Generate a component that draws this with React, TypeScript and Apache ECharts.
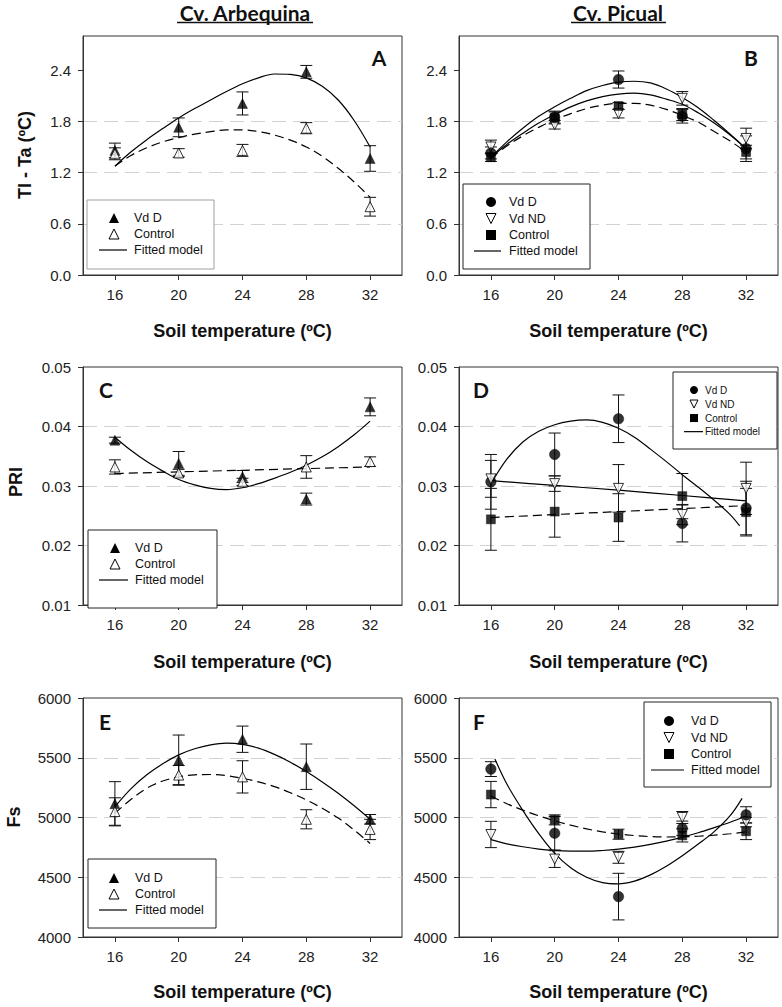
import React, { useEffect, useRef } from 'react';
import * as echarts from 'echarts';

// ---------- data ----------
const soilTemp = [16, 20, 24, 28, 32];
const xTickValues = [16, 20, 24, 28, 32];
const tlTicks = [0, 0.6, 1.2, 1.8, 2.4];
const priTicks = [0.01, 0.02, 0.03, 0.04, 0.05];
const fsTicks = [4000, 4500, 5000, 5500, 6000];

const fitT = [16, 17, 18, 19, 20, 21, 22, 23, 24, 25, 26, 27, 28, 29, 30, 31, 32];

// A: Arbequina, Tl - Ta
const aVdD = [1.46, 1.73, 2.01, 2.38, 1.365];
const aVdDSe = [0.085, 0.11, 0.135, 0.075, 0.15];
const aCtl = [1.42, 1.43, 1.46, 1.72, 0.8];
const aCtlSe = [0.07, 0.05, 0.07, 0.065, 0.11];
const aVdDFit = [1.275, 1.44, 1.585, 1.715, 1.84, 1.95, 2.05, 2.15, 2.24, 2.31, 2.355, 2.35, 2.31, 2.21, 2.05, 1.81, 1.5];
const aCtlFit = [1.275, 1.4, 1.49, 1.56, 1.61, 1.65, 1.68, 1.7, 1.7, 1.68, 1.64, 1.58, 1.5, 1.39, 1.25, 1.09, 0.91];

// B: Picual, Tl - Ta
const bVdD = [1.43, 1.85, 2.29, 1.86, 1.48];
const bVdDSe = [0.07, 0.07, 0.1, 0.08, 0.15];
const bVdND = [1.5, 1.76, 1.89, 2.07, 1.6];
const bVdNDSe = [0.08, 0.05, 0.05, 0.08, 0.12];
const bCtl = [1.38, 1.84, 1.98, 1.88, 1.44];
const bCtlSe = [0.05, 0.07, 0.04, 0.07, 0.08];
const bVdDFit = [1.38, 1.56, 1.72, 1.86, 1.97, 2.07, 2.16, 2.22, 2.26, 2.27, 2.25, 2.18, 2.08, 1.96, 1.81, 1.65, 1.48];
const bVdNDFit = [1.38, 1.53, 1.66, 1.78, 1.88, 1.97, 2.04, 2.09, 2.12, 2.13, 2.11, 2.06, 2.0, 1.9, 1.78, 1.64, 1.48];
const bCtlFit = [1.37, 1.51, 1.63, 1.73, 1.82, 1.89, 1.95, 1.99, 2.01, 2.01, 1.99, 1.94, 1.87, 1.79, 1.68, 1.57, 1.44];

// C: Arbequina, PRI
const cVdD = [0.0377, 0.0338, 0.0316, 0.0278, 0.0433];
const cVdDSe = [0.0005, 0.002, 0.001, 0.001, 0.0015];
const cCtl = [0.0332, 0.0322, 0.0307, 0.0332, 0.0341];
const cCtlSe = [0.0012, 0.0006, 0.0006, 0.0019, 0.0008];
const cVdDFit = [0.0382, 0.036, 0.0341, 0.0325, 0.0311, 0.0302, 0.0296, 0.0294, 0.0297, 0.0304, 0.0313, 0.0323, 0.0335, 0.0349, 0.0366, 0.0386, 0.0409];
const cCtlFitT = [16, 32];
const cCtlFit = [0.0321, 0.0332];

// D: Picual, PRI
const dVdD = [0.0307, 0.0353, 0.0413, 0.0237, 0.0263];
const dVdDSe = [0.0046, 0.0036, 0.004, 0.0031, 0.0045];
const dVdND = [0.0312, 0.0304, 0.0296, 0.0252, 0.0296];
const dVdNDSe = [0.0031, 0.0013, 0.004, 0.0017, 0.0044];
const dCtl = [0.0244, 0.0257, 0.0247, 0.0283, 0.0256];
const dCtlSe = [0.0052, 0.0043, 0.004, 0.0038, 0.004];
const dVdDFitT = [16.1, 17, 18, 19, 20, 21, 22, 23, 24, 25, 26, 27, 28, 29, 30, 31, 31.6];
const dVdDFit = [0.0308, 0.0345, 0.0374, 0.0392, 0.0403, 0.0409, 0.0411, 0.0407, 0.0397, 0.0382, 0.0362, 0.0341, 0.0319, 0.0298, 0.0276, 0.0252, 0.0233];
const dLinT = [16, 20, 24, 28, 32];
const dVdNDFit = [0.0309, 0.0301, 0.0293, 0.0284, 0.0275];
const dCtlFit = [0.0247, 0.0252, 0.0257, 0.0262, 0.0267];

// E: Arbequina, Fs
const eVdD = [5115, 5480, 5655, 5425, 4985];
const eVdDSe = [185, 210, 110, 190, 40];
const eCtl = [5050, 5355, 5340, 4985, 4900];
const eCtlSe = [115, 80, 135, 80, 85];
const eVdDFit = [5090, 5240, 5357, 5450, 5524, 5575, 5608, 5622, 5612, 5580, 5528, 5463, 5385, 5298, 5203, 5098, 4985];
const eCtlFit = [5035, 5150, 5245, 5305, 5340, 5357, 5360, 5350, 5328, 5298, 5258, 5207, 5147, 5077, 4995, 4895, 4783];

// F: Picual, Fs
const fVdD = [5405, 4868, 4338, 4910, 5022];
const fVdDSe = [62, 140, 195, 60, 68];
const fVdND = [4858, 4652, 4667, 5000, 4962];
const fVdNDSe = [110, 70, 50, 50, 40];
const fCtl = [5192, 4980, 4860, 4850, 4885];
const fCtlSe = [110, 42, 42, 55, 70];
const fVdDFitT = [16.25, 17, 18, 19, 20, 21, 22, 23, 24, 25, 26, 27, 28, 29, 30, 31, 31.75];
const fVdDFit = [5490, 5280, 5060, 4865, 4700, 4580, 4500, 4455, 4445, 4468, 4520, 4592, 4680, 4778, 4882, 5015, 5160];
const fVdNDFit = [4815, 4780, 4755, 4736, 4725, 4719, 4718, 4724, 4735, 4752, 4775, 4803, 4835, 4872, 4915, 4960, 5010];
const fCtlFit = [5180, 5115, 5062, 5014, 4972, 4936, 4905, 4880, 4862, 4849, 4840, 4837, 4838, 4843, 4852, 4864, 4880];

// ---------- layout / style ----------
const SANS = '"Liberation Sans", Arial, sans-serif';
const CAL = 'Lato, "Open Sans", sans-serif';
const AX = '#333';

type Mk = 'tri' | 'triOpen' | 'triDown' | 'circle' | 'square';

const gridBoxes = [
  { left: 83, top: 36, width: 319, height: 239 },
  { left: 459, top: 36, width: 319, height: 239 },
  { left: 83, top: 367, width: 319, height: 238 },
  { left: 459, top: 367, width: 319, height: 238 },
  { left: 83, top: 698, width: 319, height: 239 },
  { left: 459, top: 698, width: 319, height: 239 },
];

function scatter(gi: number, mean: number[], mk: Mk) {
  const open = mk === 'triOpen' || mk === 'triDown';
  return {
    type: 'scatter',
    xAxisIndex: gi,
    yAxisIndex: gi,
    data: soilTemp.map((x, j) => [x, mean[j]]),
    symbol: mk === 'circle' ? 'circle' : mk === 'square' ? 'rect' : 'triangle',
    symbolSize: mk === 'square' ? 9 : mk === 'circle' ? 10.5 : 10,
    symbolRotate: mk === 'triDown' ? 180 : 0,
    itemStyle: open
      ? { color: '#fff', borderColor: '#000', borderWidth: 1 }
      : { color: '#000', borderColor: '#000', borderWidth: 0.5 },
    z: 5,
    silent: true,
  };
}

function errBar(gi: number, mean: number[], se: number[]) {
  return {
    type: 'custom',
    xAxisIndex: gi,
    yAxisIndex: gi,
    data: soilTemp.map((x, j) => [x, mean[j] - se[j], mean[j] + se[j]]),
    encode: { x: 0, y: [1, 2] },
    z: 4,
    silent: true,
    renderItem: (params: any, api: any) => {
      const x = api.value(0);
      const a = api.coord([x, api.value(2)]);
      const b = api.coord([x, api.value(1)]);
      const w = 6;
      const st = { stroke: '#111', lineWidth: 1 };
      return {
        type: 'group',
        children: [
          { type: 'line', shape: { x1: a[0], y1: a[1], x2: b[0], y2: b[1] }, style: st },
          { type: 'line', shape: { x1: a[0] - w, y1: a[1], x2: a[0] + w, y2: a[1] }, style: st },
          { type: 'line', shape: { x1: b[0] - w, y1: b[1], x2: b[0] + w, y2: b[1] }, style: st },
        ],
      };
    },
  };
}

function fit(gi: number, xs: number[], ys: number[], dashed: boolean) {
  return {
    type: 'line',
    xAxisIndex: gi,
    yAxisIndex: gi,
    data: xs.map((x, j) => [x, ys[j]]),
    smooth: 0.35,
    smoothMonotone: undefined,
    symbol: 'none',
    lineStyle: { color: '#000', width: 1.2, type: dashed ? [9, 5] : 'solid' },
    z: 3,
    silent: true,
  };
}

function markerGraphic(mk: Mk, cx: number, cy: number, s: number) {
  const h = s / 2;
  if (mk === 'circle') return { type: 'circle', shape: { cx, cy, r: h }, style: { fill: '#000' }, z: 101 };
  if (mk === 'square') return { type: 'rect', shape: { x: cx - h, y: cy - h, width: s, height: s }, style: { fill: '#000' }, z: 101 };
  if (mk === 'triDown')
    return { type: 'polygon', shape: { points: [[cx - h, cy - h], [cx + h, cy - h], [cx, cy + h]] }, style: { fill: '#fff', stroke: '#000', lineWidth: 1 }, z: 101 };
  return {
    type: 'polygon',
    shape: { points: [[cx, cy - h], [cx + h, cy + h], [cx - h, cy + h]] },
    style: mk === 'tri' ? { fill: '#000' } : { fill: '#fff', stroke: '#000', lineWidth: 1 },
    z: 101,
  };
}

function txt(text: string, x: number, y: number, font: string, align = 'left', rotation = 0) {
  return {
    type: 'text',
    x,
    y,
    rotation,
    z: 102,
    style: { text, font, fill: '#111', textAlign: align, textVerticalAlign: 'middle', align, verticalAlign: 'middle' },
  };
}

type Row = { mk: Mk | 'line'; label: string; y: number };
function legendBox(x0: number, y0: number, x1: number, y1: number, border: string, rows: Row[], symX: number, textX: number, lx1: number, lx2: number, fs: number, ss: number) {
  const els: any[] = [
    { type: 'rect', shape: { x: x0, y: y0, width: x1 - x0, height: y1 - y0 }, style: { fill: '#fff', stroke: border, lineWidth: 1 }, z: 100 },
  ];
  rows.forEach((r) => {
    if (r.mk === 'line') els.push({ type: 'line', shape: { x1: lx1, y1: r.y, x2: lx2, y2: r.y }, style: { stroke: '#000', lineWidth: 1.2 }, z: 101 });
    else els.push(markerGraphic(r.mk, symX, r.y, ss));
    els.push(txt(r.label, textX, r.y, `${fs}px ${SANS}`));
  });
  return els;
}

function xAxisCfg(gi: number) {
  return {
    gridIndex: gi,
    type: 'value',
    min: 14,
    max: 34,
    axisLine: { show: true, lineStyle: { color: AX, width: 1 } },
    axisTick: { show: true, length: 5, customValues: xTickValues, lineStyle: { color: AX } },
    axisLabel: { customValues: xTickValues, fontSize: 15, fontFamily: SANS, color: '#222', margin: 12 },
    splitLine: { show: false },
  };
}

function yAxisCfg(gi: number, min: number, max: number, interval: number, ticks: number[], dec: number) {
  return {
    gridIndex: gi,
    type: 'value',
    min,
    max,
    interval,
    axisLine: { show: true, lineStyle: { color: AX, width: 1 } },
    axisTick: { show: true, length: 5, customValues: ticks, lineStyle: { color: AX } },
    axisLabel: {
      customValues: ticks,
      fontSize: 15,
      fontFamily: SANS,
      color: '#222',
      margin: 12,
      formatter: (v: number) => (dec > 0 ? Number(v).toFixed(dec) : String(Math.round(v))),
    },
    splitLine: { show: true, showMinLine: false, showMaxLine: false, lineStyle: { color: '#d2d2d2', width: 1, type: [14, 7] } },
  };
}

export default function App() {
  const ref = useRef<HTMLDivElement>(null);
  useEffect(() => {
    document.body.style.margin = '0';
    if (!ref.current) return;
    const chart = echarts.init(ref.current, undefined, { renderer: 'svg' });

    const series: any[] = [
      // A
      fit(0, fitT, aVdDFit, false), fit(0, fitT, aCtlFit, true),
      errBar(0, aVdD, aVdDSe), errBar(0, aCtl, aCtlSe),
      scatter(0, aVdD, 'tri'), scatter(0, aCtl, 'triOpen'),
      // B
      fit(1, fitT, bVdDFit, false), fit(1, fitT, bVdNDFit, false), fit(1, fitT, bCtlFit, true),
      errBar(1, bVdD, bVdDSe), errBar(1, bVdND, bVdNDSe), errBar(1, bCtl, bCtlSe),
      scatter(1, bVdND, 'triDown'), scatter(1, bCtl, 'square'), scatter(1, bVdD, 'circle'),
      // C
      fit(2, fitT, cVdDFit, false), fit(2, cCtlFitT, cCtlFit, true),
      errBar(2, cVdD, cVdDSe), errBar(2, cCtl, cCtlSe),
      scatter(2, cVdD, 'tri'), scatter(2, cCtl, 'triOpen'),
      // D
      fit(3, dVdDFitT, dVdDFit, false), fit(3, dLinT, dVdNDFit, false), fit(3, dLinT, dCtlFit, true),
      errBar(3, dVdD, dVdDSe), errBar(3, dVdND, dVdNDSe), errBar(3, dCtl, dCtlSe),
      scatter(3, dVdD, 'circle'), scatter(3, dVdND, 'triDown'), scatter(3, dCtl, 'square'),
      // E
      fit(4, fitT, eVdDFit, false), fit(4, fitT, eCtlFit, true),
      errBar(4, eVdD, eVdDSe), errBar(4, eCtl, eCtlSe),
      scatter(4, eVdD, 'tri'), scatter(4, eCtl, 'triOpen'),
      // F
      fit(5, fVdDFitT, fVdDFit, false), fit(5, fitT, fVdNDFit, false), fit(5, fitT, fCtlFit, true),
      errBar(5, fVdD, fVdDSe), errBar(5, fVdND, fVdNDSe), errBar(5, fCtl, fCtlSe),
      scatter(5, fVdND, 'triDown'), scatter(5, fCtl, 'square'), scatter(5, fVdD, 'circle'),
    ];

    const twoRows: Row[] = [
      { mk: 'tri', label: 'Vd D', y: 0 },
      { mk: 'triOpen', label: 'Control', y: 16 },
      { mk: 'line', label: 'Fitted model', y: 32 },
    ];
    const threeRows: Row[] = [
      { mk: 'circle', label: 'Vd D', y: 0 },
      { mk: 'triDown', label: 'Vd ND', y: 16.5 },
      { mk: 'square', label: 'Control', y: 33 },
      { mk: 'line', label: 'Fitted model', y: 49 },
    ];
    const shift = (rows: Row[], y0: number, k = 1) => rows.map((r) => ({ ...r, y: y0 + r.y * k }));

    const TITLE = `bold 21px ${CAL}`;
    const LETTER = `bold 21px ${CAL}`;
    const AXT = `bold 18px ${SANS}`;

    const graphic: any[] = [
      txt('Cv. Arbequina', 245, 12, TITLE, 'center'),
      { type: 'line', shape: { x1: 177, y1: 22.5, x2: 313, y2: 22.5 }, style: { stroke: '#111', lineWidth: 1.5 }, z: 102 },
      txt('Cv. Picual', 618, 12, TITLE, 'center'),
      { type: 'line', shape: { x1: 571, y1: 22.5, x2: 666, y2: 22.5 }, style: { stroke: '#111', lineWidth: 1.5 }, z: 102 },
      txt('A', 379, 57, LETTER, 'center'),
      txt('B', 751, 57, LETTER, 'center'),
      txt('C', 106, 389, LETTER, 'center'),
      txt('D', 481, 389, LETTER, 'center'),
      txt('E', 105, 721, LETTER, 'center'),
      txt('F', 479, 721, LETTER, 'center'),
      txt('Tl - Ta (ºC)', 25, 155, AXT, 'center', Math.PI / 2),
      txt('PRI', 16, 482, AXT, 'center', Math.PI / 2),
      txt('Fs', 14, 817, AXT, 'center', Math.PI / 2),
      txt('Soil temperature (ºC)', 242.5, 331, AXT, 'center'),
      txt('Soil temperature (ºC)', 618.5, 331, AXT, 'center'),
      txt('Soil temperature (ºC)', 242.5, 662, AXT, 'center'),
      txt('Soil temperature (ºC)', 618.5, 662, AXT, 'center'),
      txt('Soil temperature (ºC)', 242.5, 992, AXT, 'center'),
      txt('Soil temperature (ºC)', 618.5, 992, AXT, 'center'),
      ...legendBox(87, 200, 214, 269, '#a0a0a0', shift(twoRows, 218), 114, 134, 99, 127, 12.5, 10),
      ...legendBox(463, 184, 590, 269, '#222', shift(threeRows, 202), 491, 509, 474, 501, 12.5, 10),
      ...legendBox(88, 530, 217, 608, '#222', shift(twoRows, 548), 115, 135, 99, 128, 12.5, 10),
      ...legendBox(673, 372, 777, 449, '#222', shift(threeRows, 390, 0.85), 694, 705, 684, 703, 10, 8),
      ...legendBox(88, 859, 216, 928, '#222', shift(twoRows, 878), 114, 135, 99, 127, 12.5, 10),
      ...legendBox(644, 702, 771, 787, '#222', shift(threeRows, 721), 669, 691, 651, 684, 12.5, 10),
    ];

    chart.setOption({
      animation: false,
      backgroundColor: '#fff',
      grid: gridBoxes.map((g) => ({ ...g, show: true, borderColor: AX, borderWidth: 1, backgroundColor: 'transparent', containLabel: false })),
      xAxis: [0, 1, 2, 3, 4, 5].map((i) => xAxisCfg(i)),
      yAxis: [
        yAxisCfg(0, 0, 2.8, 0.6, tlTicks, 1),
        yAxisCfg(1, 0, 2.8, 0.6, tlTicks, 1),
        yAxisCfg(2, 0.01, 0.05, 0.01, priTicks, 2),
        yAxisCfg(3, 0.01, 0.05, 0.01, priTicks, 2),
        yAxisCfg(4, 4000, 6000, 500, fsTicks, 0),
        yAxisCfg(5, 4000, 6000, 500, fsTicks, 0),
      ],
      series,
      graphic,
    });
    return () => chart.dispose();
  }, []);
  return <div ref={ref} style={{ width: 782, height: 1007 }} />;
}
